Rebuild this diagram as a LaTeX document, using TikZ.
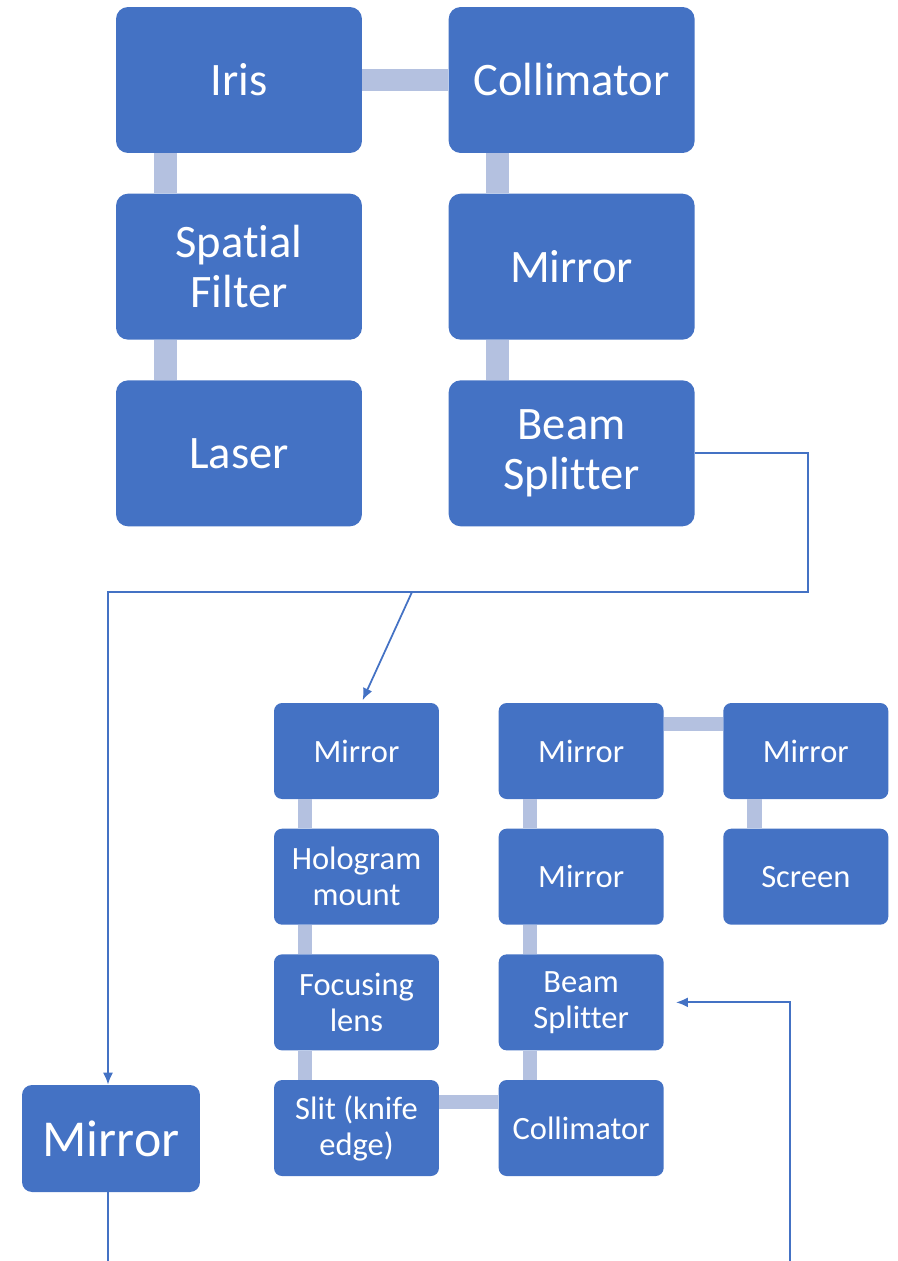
\documentclass[tikz,border=0pt]{standalone}
\usepackage{fontspec}
\setmainfont{Carlito}[Ligatures=NoCommon]
\usetikzlibrary{arrows.meta, positioning, calc}

\definecolor{boxblue}{RGB}{68,114,196}
\definecolor{barblue}{RGB}{180,193,224}

\begin{document}
\begin{tikzpicture}[
    x=0.02cm, y=-0.02cm,
    bigbox/.style={draw=none, fill=boxblue, rounded corners=0.24cm, minimum width=4.92cm, minimum height=2.92cm, align=center, text=white, font=\fontsize{26.5}{28.5}\selectfont},
    smallbox/.style={draw=none, fill=boxblue, rounded corners=0.16cm, minimum width=3.3cm, minimum height=1.92cm, align=center, text=white, font=\fontsize{18.5}{20.5}\selectfont},
    solobox/.style={draw=none, fill=boxblue, rounded corners=0.2cm, minimum width=3.56cm, minimum height=2.14cm, align=center, text=white, font=\fontsize{29.5}{32}\selectfont},
    barbig/.style={barblue, line width=0.46cm},
    barsmall/.style={barblue, line width=0.29cm},
    link/.style={boxblue, line width=1pt},
    arrow/.style={link, -{Latex[length=2.4mm, width=2mm]}}
]
\useasboundingbox (0,0) rectangle (898,1261);

% Top block
\node[bigbox] (iris) at (239,80) {Iris};
\node[bigbox, right=1.72cm of iris] (collim) {Collimator};
\node[bigbox, below=0.8cm of iris] (spatial) {Spatial\\Filter};
\node[bigbox, below=0.8cm of collim] (mirtop) {Mirror};
\node[bigbox, below=0.8cm of spatial] (laser) {Laser};
\node[bigbox, below=0.8cm of mirtop] (bsplit) {Beam\\Splitter};

% Top bars
\draw[barbig] (iris.east) -- (collim.west);
\draw[barbig] ($(iris.south west)!0.2!(iris.south east)$) -- ($(spatial.north west)!0.2!(spatial.north east)$);
\draw[barbig] ($(spatial.south west)!0.2!(spatial.south east)$) -- ($(laser.north west)!0.2!(laser.north east)$);
\draw[barbig] ($(collim.south west)!0.2!(collim.south east)$) -- ($(mirtop.north west)!0.2!(mirtop.north east)$);
\draw[barbig] ($(mirtop.south west)!0.2!(mirtop.south east)$) -- ($(bsplit.north west)!0.2!(bsplit.north east)$);

% Bottom block
\node[smallbox] (mira) at (356.5,751) {Mirror};
\node[smallbox, right=1.18cm of mira] (mirb) {Mirror};
\node[smallbox, right=1.18cm of mirb] (mird) {Mirror};
\node[smallbox, below=0.58cm of mira] (holo) {Hologram\\mount};
\node[smallbox, below=0.58cm of holo] (focus) {Focusing\\lens};
\node[smallbox, below=0.58cm of focus] (slit) {Slit (knife\\edge)};
\node[smallbox, below=0.58cm of mirb] (mirc) {Mirror};
\node[smallbox, below=0.58cm of mirc] (bssmall) {Beam\\Splitter};
\node[smallbox, below=0.58cm of bssmall] (collsmall) {Collimator};
\node[smallbox, below=0.58cm of mird] (screen) {Screen};

% Bottom bars
\foreach \a/\b in {mira/holo, holo/focus, focus/slit, mirb/mirc, mirc/bssmall, bssmall/collsmall, mird/screen}
  \draw[barsmall] ($(\a.south west)!0.19!(\a.south east)$) -- ($(\b.north west)!0.19!(\b.north east)$);
\draw[barsmall] ($(mirb.north east)!0.22!(mirb.south east)$) -- ($(mird.north west)!0.22!(mird.south west)$);
\draw[barsmall] ($(slit.north east)!0.23!(slit.south east)$) -- ($(collsmall.north west)!0.23!(collsmall.south west)$);

% Lone mirror
\node[solobox] (solomir) at (111,1138.5) {Mirror};

% Beam paths
\coordinate (turn) at (808,592);
\coordinate (split) at (412,592);
\coordinate (downleft) at (108,1261);
\coordinate (downright) at (790,1261);

\draw[arrow] (bsplit.east) -| (turn) -| (downleft |- solomir.north);
\draw[arrow, shorten >=1.5pt] (split) -- ([xshift=0.1cm]mira.north);
\draw[link] (downleft |- solomir.south) -- (downleft);
\draw[arrow, shorten >=0.24cm] (downright) |- (bssmall.east);

\end{tikzpicture}
\end{document}
